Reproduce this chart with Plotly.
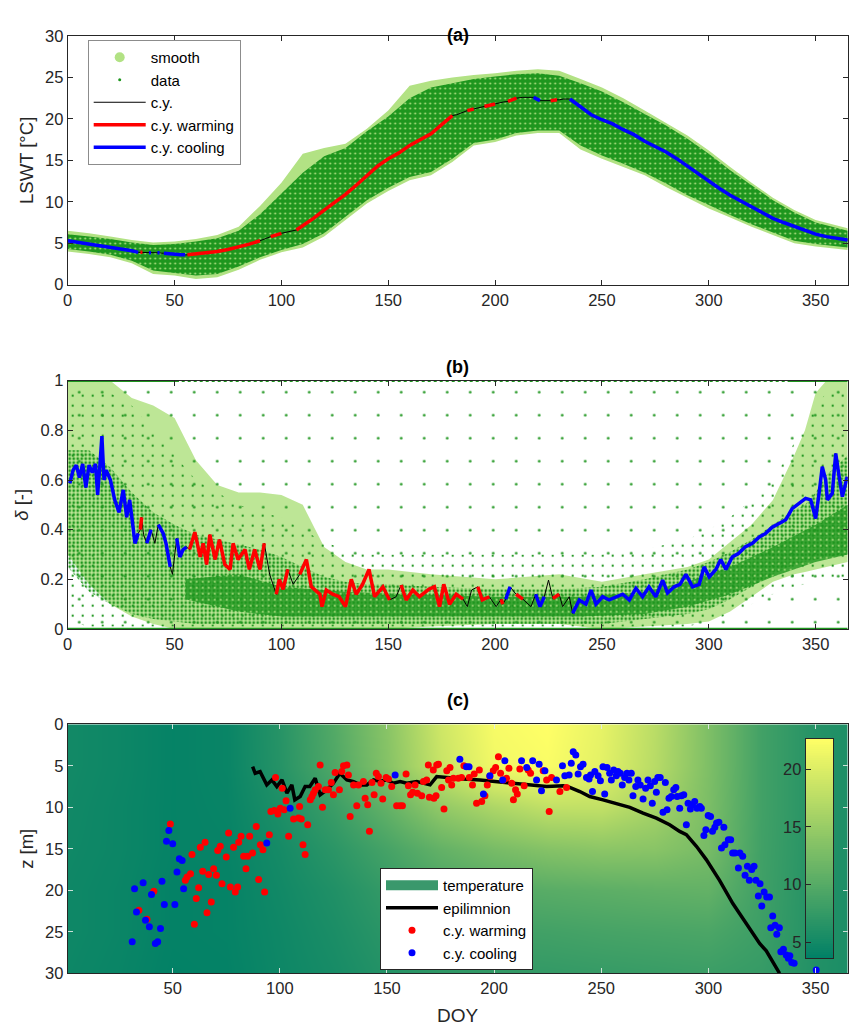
import numpy as np
import plotly.graph_objects as go

# ------------------------------------------------------------------ panel (a)
a_env_doy = [0, 10, 20, 30, 40, 50, 60, 70, 80, 90, 100, 110, 120, 130, 140, 150, 160, 170, 180,
             190, 200, 210, 220, 230, 240, 250, 260, 270, 280, 290, 300, 310, 320, 330, 340, 350, 365]
a_smooth_hi = [6.5, 6.2, 5.8, 5.4, 5.1, 5.2, 5.5, 6.0, 7.0, 9.5, 12.3, 15.8, 16.5, 17.0, 18.8, 21.0, 24.0, 24.6, 25.0,
               25.3, 25.5, 25.8, 26.0, 25.8, 24.8, 23.8, 22.5, 21.0, 19.5, 18.0, 16.2, 14.2, 12.3, 10.5, 9.0, 7.8, 6.8]
a_smooth_lo = [4.0, 3.7, 3.3, 2.6, 1.3, 1.1, 0.7, 0.9, 1.8, 3.0, 3.9, 4.5, 5.8, 7.8, 9.8, 11.3, 12.6, 13.2, 14.8,
               16.8, 17.2, 18.0, 18.3, 18.3, 16.3, 15.2, 14.2, 13.2, 11.8, 10.5, 9.2, 8.1, 7.0, 6.0, 5.0, 4.6, 4.2]
a_data_hi = [6.1, 5.8, 5.5, 5.1, 4.8, 4.9, 5.2, 5.6, 6.5, 8.5, 11.0, 13.5, 15.5, 16.5, 18.5, 20.3, 22.5, 23.8, 24.3,
             24.8, 25.1, 25.4, 25.5, 25.2, 24.3, 23.3, 22.0, 20.6, 19.2, 17.6, 15.8, 13.8, 12.0, 10.2, 8.7, 7.5, 6.5]
a_data_lo = [4.3, 4.0, 3.6, 2.9, 1.7, 1.4, 1.1, 1.3, 2.2, 3.3, 4.2, 4.9, 6.2, 8.2, 10.2, 11.7, 13.0, 13.6, 15.2,
             17.1, 17.5, 18.3, 18.6, 18.6, 16.8, 15.6, 14.6, 13.5, 12.2, 10.8, 9.6, 8.4, 7.3, 6.3, 5.3, 4.9, 4.5]

a_cy_doy = [0, 5, 10, 15, 20, 25, 30, 33, 34, 35, 36, 38, 39, 40, 42, 43, 44, 45, 48, 50, 53, 55,
            56, 60, 65, 70, 75, 80, 85, 90, 93, 95, 100, 104, 107, 110, 115, 120, 125, 130, 135, 140,
            145, 150, 155, 160, 165, 170, 175, 180, 182, 184, 185, 187, 190, 193, 195, 200, 203, 204,
            206, 210, 213, 217, 218, 221, 224, 226, 229, 230, 232, 233, 235, 240, 245, 250, 255, 260,
            265, 270, 275, 280, 285, 290, 295, 300, 305, 310, 315, 320, 325, 330, 335, 340, 345, 350,
            355, 360, 365]
a_cy_T = [5.3, 5.1, 4.9, 4.7, 4.5, 4.35, 4.1, 3.9, 3.9, 3.9, 3.85, 3.85, 3.85, 3.85, 3.85, 3.85, 3.8, 3.8, 3.7, 3.65, 3.6, 3.6,
          3.6, 3.7, 3.85, 4.0, 4.25, 4.55, 4.9, 5.3, 5.6, 5.8, 6.2, 6.4, 6.6, 7.1, 8.0, 9.0, 9.9, 10.9, 12.0, 13.2,
          14.3, 15.2, 15.9, 16.8, 17.5, 18.2, 19.3, 20.4, 20.5, 20.7, 20.8, 21.0, 21.2, 21.4, 21.5, 21.8, 22.0, 22.05,
          22.1, 22.5, 22.6, 22.6, 22.6, 22.2, 22.2, 22.2, 22.3, 22.3, 22.4, 22.4, 22.4, 21.5, 20.5, 19.9, 19.4, 18.7,
          18.1, 17.3, 16.7, 16.0, 15.2, 14.3, 13.3, 12.4, 11.6, 10.8, 10.1, 9.3, 8.6, 8.0, 7.5, 7.0, 6.5, 6.1,
          5.8, 5.6, 5.4]
a_cy_phase = ['c', 'c', 'c', 'c', 'c', 'c', 'c', 'c', 'w', 'w', 'n', 'c', 'c', 'n', 'c', 'c', 'n', 'c', 'c', 'c', 'c', 'c',
              'w', 'w', 'w', 'w', 'w', 'w', 'w', 'w', 'n', 'w', 'w', 'n', 'w', 'w', 'w', 'w', 'w', 'w', 'w', 'w',
              'w', 'w', 'w', 'w', 'w', 'w', 'w', 'w', 'n', 'c', 'n', 'w', 'w', 'n', 'w', 'w', 'c', 'n',
              'w', 'w', 'n', 'n', 'c', 'c', 'n', 'w', 'w', 'n', 'c', 'n', 'c', 'c', 'c', 'c', 'c', 'c',
              'c', 'c', 'c', 'c', 'c', 'c', 'c', 'c', 'c', 'c', 'c', 'c', 'c', 'c', 'c', 'c', 'c', 'c',
              'c', 'c', 'c']

# ------------------------------------------------------------------ panel (b)
b_env_doy = [0, 10, 20, 30, 40, 50, 60, 70, 80, 90, 100, 110, 120, 130, 140, 150, 170, 200, 230, 250,
             270, 290, 300, 310, 320, 330, 340, 345, 350, 355, 365]
b_smooth_hi = [1.0, 1.0, 1.0, 0.93, 0.9, 0.85, 0.68, 0.58, 0.55, 0.55, 0.54, 0.5, 0.33, 0.27, 0.24, 0.24, 0.22, 0.2, 0.22, 0.19,
               0.22, 0.25, 0.28, 0.35, 0.42, 0.52, 0.7, 0.8, 0.95, 1.0, 1.0]
b_smooth_lo = [0.3, 0.18, 0.1, 0.05, 0.02, 0.0, 0.0, 0.0, 0.0, 0.0, 0.0, 0.0, 0.0, 0.0, 0.0, 0.0, 0.01, 0.02, 0.02, 0.0,
               0.01, 0.02, 0.03, 0.07, 0.13, 0.19, 0.22, 0.23, 0.24, 0.25, 0.27]
b_core_hi = [0.72, 0.72, 0.65, 0.55, 0.47, 0.42, 0.38, 0.36, 0.34, 0.32, 0.29, 0.25, 0.21, 0.19, 0.18, 0.18, 0.17, 0.16, 0.16, 0.17,
             0.2, 0.24, 0.27, 0.31, 0.36, 0.42, 0.48, 0.5, 0.55, 0.62, 0.7]
b_core_lo = [0.25, 0.15, 0.1, 0.06, 0.04, 0.03, 0.02, 0.02, 0.02, 0.02, 0.02, 0.02, 0.02, 0.02, 0.02, 0.02, 0.02, 0.02, 0.02, 0.02,
             0.04, 0.06, 0.08, 0.12, 0.17, 0.22, 0.26, 0.27, 0.28, 0.29, 0.3]
b_mid_hi = [0.97, 0.97, 0.95, 0.9, 0.8, 0.7, 0.6, 0.55, 0.5, 0.47, 0.45, 0.4, 0.35, 0.32, 0.3, 0.3, 0.3, 0.3, 0.3, 0.3,
            0.32, 0.36, 0.4, 0.45, 0.52, 0.6, 0.75, 0.82, 0.9, 0.95, 0.97]
b_mid_lo = [0.03, 0.01, 0.01, 0.01, 0.01, 0.01, 0.01, 0.01, 0.01, 0.01, 0.01, 0.01, 0.01, 0.01, 0.01, 0.01, 0.01, 0.01, 0.01, 0.01,
            0.01, 0.01, 0.03, 0.06, 0.1, 0.14, 0.17, 0.18, 0.2, 0.2, 0.2]
b_dense_doy = [55, 80, 100, 130, 160, 200, 240, 270, 290, 310, 330, 350, 365]
b_dense_hi = [0.2, 0.22, 0.17, 0.15, 0.14, 0.13, 0.13, 0.15, 0.19, 0.25, 0.33, 0.42, 0.5]
b_dense_lo = [0.12, 0.07, 0.05, 0.05, 0.05, 0.05, 0.05, 0.06, 0.09, 0.14, 0.21, 0.27, 0.3]
b_sparse_doy = [0, 365]
b_sparse_lo = [0.0, 0.0]
b_sparse_hi = [1.0, 1.0]
b_row_doy = [0, 365]
b_row_low = [0.0, 0.0]
b_row_top_dense_a = [0, 52]
b_row_top_dense_b = [337, 365]
b_row_top = [1.0, 1.0]

b_cy_doy = [1, 2.5, 4, 5.5, 7, 8.5, 10, 11.5, 13, 14, 15, 16, 17, 18, 20, 22, 24, 26, 27.6, 29, 30, 31.5, 33,
            34, 34.6, 35.5, 37, 39, 40.8, 42.4, 44.7, 46, 48, 49, 51, 52.5, 54, 55.6,
            57, 59.5, 62, 63.4, 65, 66.5, 69, 71, 73.5, 76, 77.4, 79.7, 83, 85, 87.5, 90, 92, 94.5,
            97.6, 99, 100.8, 103, 105.5, 108.6, 111.7, 114, 118, 119, 121, 124, 127, 130, 132.7, 135,
            138, 141, 143.6, 147.5, 150.6, 153.7, 156, 158.4, 161.5, 164.6, 169, 171.6, 174, 176, 178.7,
            181.8, 185, 187, 189, 191.9, 194, 197.3, 200.5, 202.8, 203.6, 205, 207, 209.8, 213, 216.8,
            219, 221, 223, 225, 227, 230, 231.6, 234.7, 236.3, 239.4, 242.5, 244.9, 247.2, 250.3, 253.4,
            256.5, 259.7, 262.8, 265.9, 269, 272, 275.2, 278.4, 280.7, 283.8, 286.5, 289.3, 292.4, 295.5,
            297.8, 300.2, 303.3, 305.6, 308, 311, 314, 317, 320.4, 323.5, 326.6, 329.7, 332.9, 336, 339,
            342.5, 345.3, 347.7, 350, 351.6, 353.1, 354.7, 355.5, 357.8, 359.4, 361, 362.5, 364.8]
b_cy_delta = [0.587, 0.64, 0.66, 0.61, 0.665, 0.57, 0.66, 0.63, 0.665, 0.54, 0.65, 0.777, 0.6, 0.64, 0.6, 0.52, 0.47, 0.56, 0.45, 0.52, 0.45, 0.345, 0.385,
              0.4, 0.45, 0.38, 0.345, 0.4, 0.345, 0.42, 0.385, 0.345, 0.25, 0.22, 0.365, 0.29, 0.32, 0.33,
              0.32, 0.39, 0.29, 0.345, 0.26, 0.38, 0.28, 0.36, 0.26, 0.24, 0.345, 0.28, 0.32, 0.24, 0.32, 0.24, 0.345, 0.22,
              0.14, 0.20, 0.16, 0.24, 0.18, 0.22, 0.28, 0.17, 0.14, 0.09, 0.157, 0.14, 0.13, 0.09, 0.20, 0.14,
              0.18, 0.24, 0.13, 0.17, 0.117, 0.13, 0.177, 0.117, 0.157, 0.13, 0.16, 0.17, 0.09, 0.18, 0.10,
              0.14, 0.12, 0.09, 0.157, 0.17, 0.117, 0.13, 0.09, 0.12, 0.10, 0.12, 0.17, 0.14, 0.12, 0.09,
              0.14, 0.09, 0.13, 0.197, 0.123, 0.14, 0.09, 0.13, 0.063, 0.117, 0.10, 0.157, 0.10, 0.13, 0.117,
              0.13, 0.14, 0.117, 0.164, 0.13, 0.17, 0.13, 0.197, 0.145, 0.17, 0.18, 0.22, 0.17, 0.18,
              0.25, 0.21, 0.24, 0.28, 0.24, 0.29, 0.305, 0.33, 0.345, 0.37, 0.385, 0.41, 0.425, 0.44, 0.485,
              0.506, 0.526, 0.52, 0.445, 0.546, 0.654, 0.6, 0.52, 0.546, 0.707, 0.613, 0.533, 0.613]
b_cy_phase = ['c'] * 23 + ['w', 'w', 'n', 'c', 'c', 'n', 'c', 'c', 'c', 'c', 'n', 'c', 'c', 'c', 'c'] + \
             ['w'] * 17 + ['n'] + ['w'] * 4 + ['n'] + ['w'] * 16 + ['n'] + ['w'] * 11 + \
             ['n', 'c', 'w', 'w', 'w', 'n', 'w', 'w', 'c', 'c', 'w', 'w', 'n', 'c', 'c', 'c', 'n', 'w', 'w', 'n', 'n'] + \
             ['c'] * 52

# ------------------------------------------------------------------ panel (c)
c_hm_doy = [0, 25, 50, 75, 100, 125, 150, 175, 200, 225, 250, 275, 300, 325, 350, 375]
c_hm_depth = [0, 5, 10, 15, 20, 25, 30]
t_z0 = [5.0, 4.6, 4.0, 4.3, 6.5, 9.8, 13.8, 19.0, 22.0, 22.6, 20.8, 17.5, 13.0, 8.5, 6.3, 5.5]
t_z5 = [5.0, 4.6, 4.0, 4.3, 6.4, 9.5, 13.5, 18.5, 21.6, 22.2, 20.5, 17.3, 13.0, 8.5, 6.3, 5.5]
t_z10 = [4.9, 4.5, 4.0, 4.2, 5.8, 8.0, 11.0, 14.5, 16.5, 18.0, 18.0, 16.0, 12.8, 8.5, 6.3, 5.5]
t_z15 = [4.8, 4.5, 4.0, 4.1, 5.2, 6.8, 8.8, 11.0, 12.5, 13.5, 14.0, 13.8, 12.5, 8.4, 6.3, 5.4]
t_z20 = [4.7, 4.4, 3.9, 4.0, 4.9, 6.0, 7.5, 9.0, 9.8, 10.2, 10.5, 10.8, 11.0, 8.3, 6.2, 5.4]
t_z25 = [4.7, 4.4, 3.9, 4.0, 4.7, 5.6, 6.8, 7.8, 8.3, 8.5, 8.8, 9.0, 9.2, 8.1, 6.2, 5.3]
t_z30 = [4.6, 4.3, 3.8, 3.9, 4.6, 5.3, 6.3, 7.0, 7.3, 7.4, 7.6, 7.8, 8.0, 7.6, 6.1, 5.3]
c_tmin, c_tmax = 3.6, 22.6
cb_ticks = [5, 10, 15, 20]

c_epi_doy = [87.3, 88.5, 90.8, 93.9, 96.3, 98.6, 101, 103.3, 105.6, 107, 109.5, 111.8, 114, 116.5, 118.8,
             121.9, 125, 128, 131.3, 134.4, 137.5, 140.6, 143.7, 146.8, 149.9, 153, 156.1, 159.2, 163.9,
             170.1, 173.2, 179.4, 185.6, 193.4, 201.2, 208.9, 216.7, 224.5, 232.2, 235.3, 240, 244.6, 250.8,
             257, 263.3, 269.5, 275.7, 281.9, 286.6, 289.7, 294.4, 299, 305.2, 311.4, 317.7, 323.9, 327,
             330.1, 333.2]
c_epi_z = [5.1, 5.9, 5.7, 7.3, 6.7, 7.5, 6.7, 8.3, 7.3, 9.1, 8.7, 7.5, 7.5, 6.5, 8.5,
           7.9, 7.1, 5.9, 6.7, 6.9, 7.3, 7.3, 6.7, 6.9, 6.7, 7.1, 6.9, 7.1, 6.9,
           7.3, 6.3, 6.5, 6.6, 6.7, 6.9, 7.0, 7.2, 7.5, 7.4, 7.6, 8.1, 8.7, 9.1,
           9.6, 10.0, 10.7, 11.3, 12.1, 12.9, 13.3, 14.7, 16.3, 18.8, 21.6, 24.0, 26.4, 27.3,
           28.6, 30.0]

c_warm_doy = [48.9, 41.2, 34.2, 38.0, 59.0, 65.1, 62.9, 58.3, 56.7, 55.9, 64.0, 62.1, 61.0, 60.1, 66.0, 68.0,
              66.8, 69.1, 70.4, 71.0, 72.2, 73.0, 76.1, 75.0, 76.9, 78.4, 79.2, 80.3, 80.8, 81.9, 83.1, 84.2,
              85.0, 85.9, 87.3, 89.0, 90.1, 90.9, 92.1, 92.9, 95.1, 95.8, 97.4, 98.0, 99.1, 101.1, 100.2, 102.0,
              102.9, 104.1, 106.4, 109.2, 108.7, 110.0, 110.8, 111.8, 113.0, 114.2, 115.0, 115.7, 116.5, 118.0,
              118.8, 119.9, 121.2, 122.7, 124.0, 125.0, 125.8, 127.8, 128.9, 129.7, 131.3, 132.0, 132.8, 134.4,
              135.9, 136.7, 139.0, 139.8, 141.0, 141.8, 143.0, 144.0, 145.0, 146.0, 147.2, 148.0, 149.6, 150.7,
              152.2, 154.5, 156.1, 157.2, 158.9, 160.0, 161.0, 162.0, 163.1, 164.2, 166.2, 167.0, 168.5, 169.3,
              169.8, 171.6, 173.2, 174.0, 171.9, 172.9, 175.5, 176.6, 177.9, 178.7, 179.4, 180.2, 181.0, 183.3,
              184.8, 185.9, 188.4, 189.9, 190.7, 191.8, 193.1, 194.2, 195.7, 196.8, 198.0, 199.6, 200.7, 202.0,
              203.0, 204.3, 205.8, 206.9, 208.2, 209.0, 210.0, 210.8, 212.0, 214.0, 215.9, 217.0, 222.9, 224.5,
              225.7, 226.8, 230.7, 233.8]
c_warm_z = [12.0, 20.1, 22.4, 23.5, 15.7, 14.2, 14.8, 18.0, 18.4, 18.8, 17.7, 19.7, 21.0, 24.1, 22.7, 21.4,
            18.1, 17.4, 18.2, 15.2, 14.7, 19.2, 13.1, 16.0, 19.6, 14.8, 20.2, 19.6, 14.2, 13.5, 15.9, 17.4,
            15.9, 13.5, 15.5, 12.3, 18.7, 14.5, 15.1, 20.2, 13.3, 10.5, 10.4, 6.4, 10.8, 7.7, 10.1, 10.3,
            9.2, 13.5, 11.4, 9.9, 11.3, 11.4, 14.5, 15.7, 12.1, 9.1, 8.7, 8.3, 7.9, 7.5,
            4.9, 10.0, 7.9, 7.9, 7.0, 8.5, 5.8, 7.9, 5.7, 5.0, 4.9, 6.1, 11.1, 7.3,
            9.8, 7.3, 6.9, 8.9, 9.7, 12.9, 7.0, 8.5, 5.9, 6.3, 7.1, 9.0, 6.4, 6.6,
            7.5, 9.8, 9.8, 9.8, 6.0, 7.4, 8.5, 8.2, 7.3, 8.3, 8.6, 6.9, 6.7, 4.9,
            8.8, 5.5, 4.9, 4.8, 8.9, 8.6, 7.6, 10.2, 5.6, 6.7, 5.2, 7.3, 6.5, 6.5,
            6.4, 5.0, 6.4, 7.3, 6.0, 9.5, 5.5, 9.3, 8.6, 7.3, 6.3, 5.6, 5.2, 3.9,
            5.9, 6.7, 6.5, 5.3, 7.1, 9.1, 7.9, 8.4, 5.4, 7.4, 5.5, 5.9, 5.6, 6.7,
            10.5, 6.4, 8.1, 7.6]
c_cool_doy = [31.1, 32.2, 33.1, 36.2, 37.3, 39.1, 40.1, 41.9, 43.0, 44.3, 45.0, 46.1, 47.1, 48.2, 50.0, 51.0,
              52.0, 53.1, 54.4, 55.1, 93.9, 104.8, 153.8, 184.0, 187.1, 188.3, 195.0, 198.0, 204.0, 205.0,
              212.8, 215.2, 218.0, 219.8, 221.0, 222.1, 223.7, 229.1, 231.9, 233.0, 235.0, 236.0, 236.9, 238.1,
              239.2, 240.3, 241.5, 243.1, 244.3, 245.0, 245.9, 247.0, 248.5, 249.6, 250.8, 251.6, 252.7, 253.9,
              254.7, 255.8, 257.0, 257.8, 258.9, 259.8, 260.9, 262.0, 262.9, 264.0, 264.8, 266.1, 267.1, 268.2,
              269.5, 270.7, 271.8, 272.9, 273.8, 274.9, 275.7, 276.4, 277.5, 278.8, 279.9, 280.7, 281.6, 282.7,
              283.8, 284.8, 285.4, 286.6, 287.4, 288.5, 289.7, 290.5, 291.6, 292.5, 293.6, 294.7, 296.0, 296.7,
              297.9, 298.8, 299.9, 301.0, 301.9, 303.0, 303.8, 304.9, 306.1, 307.2, 307.7, 309.3, 310.4, 311.3,
              312.4, 314.0, 314.7, 316.0, 317.1, 318.2, 319.1, 320.2, 321.3, 322.2, 323.3, 324.1, 324.9, 326.0,
              327.2, 328.5, 329.1, 330.0, 331.1, 331.9, 333.1, 333.8, 335.0, 336.3, 337.3, 338.0, 338.9, 340.0,
              350.3]
c_cool_z = [26.2, 19.8, 22.6, 19.1, 23.6, 24.4, 20.5, 26.4, 26.2, 24.6, 18.9, 21.7, 14.1, 12.8, 14.4, 21.7,
            17.8, 16.2, 16.4, 19.8, 14.3, 10.1, 6.1, 4.2, 5.1, 5.1, 8.4, 6.2, 6.7, 4.4,
            4.4, 5.2, 4.4, 6.7, 4.8, 8.0, 5.6, 6.7, 5.0, 6.2, 6.1, 4.7, 3.3, 3.7,
            6.0, 5.1, 4.8, 6.4, 6.6, 6.1, 8.1, 5.7, 6.2, 6.8, 5.1, 8.4, 5.2, 5.9,
            6.7, 5.5, 6.2, 5.7, 5.9, 7.3, 6.4, 5.9, 6.7, 5.9, 8.6, 7.5, 6.7, 7.3,
            9.0, 7.7, 6.7, 7.4, 9.5, 6.9, 8.2, 6.4, 6.4, 10.6, 7.0, 10.3, 8.9, 8.7,
            7.9, 7.6, 8.7, 10.1, 8.6, 8.5, 12.1, 9.5, 10.2, 9.7, 9.3, 10.1, 9.9, 10.1,
            13.4, 12.7, 11.0, 11.1, 12.9, 12.4, 11.9, 11.8, 14.9, 12.4, 14.5, 13.9, 13.9, 15.5,
            15.5, 17.3, 15.5, 15.9, 18.2, 17.1, 18.8, 17.5, 17.1, 18.8, 20.7, 19.2, 21.9, 20.2,
            20.8, 20.8, 24.5, 23.1, 24.2, 25.3, 24.5, 27.4, 27.1, 27.8, 28.2, 27.9, 28.7, 28.8,
            29.6]

# ------------------------------------------------------------------ styling
FONT = "Liberation Sans, Arial, Helvetica, sans-serif"
TXT = "#262626"
LIGHT = "rgb(178,226,132)"
DARK = "rgb(30,150,30)"
W, H = 851, 1027
X0, X1 = 67.7, 847.7
PANELS = {"a": (36.0, 284.7), "b": (380.7, 629.0), "c": (724.3, 973.3)}


def xdom(a, b):
    return [a / W, b / W]


def ydom(top, bot):
    return [1 - bot / H, 1 - top / H]


def band(x, lo, hi):
    return list(x) + list(x)[::-1], list(hi) + list(lo)[::-1]


def masked(vals, phase, key):
    return [v if p == key else None for v, p in zip(vals, phase)]


def pattern(fg, bg, size, solidity):
    return dict(shape=".", fgcolor=fg, bgcolor=bg, fgopacity=1, size=size, solidity=solidity, fillmode="replace")


def add_band(x, lo, hi, ax, fillcolor, fillpattern=None):
    bx, by = band(x, lo, hi)
    kw = dict(fillpattern=fillpattern) if fillpattern else {}
    fig.add_trace(go.Scatter(x=bx, y=by, fill="toself", fillcolor=fillcolor, mode="none",
                             showlegend=False, hoverinfo="skip", xaxis="x" + ax, yaxis="y" + ax, **kw))


fig = go.Figure()

# ---------------- (a)
add_band(a_env_doy, a_smooth_lo, a_smooth_hi, "", LIGHT)
add_band(a_env_doy, a_data_lo, a_data_hi, "", DARK, pattern(LIGHT, DARK, 5, 0.12))
fig.add_trace(go.Scatter(x=[None], y=[None], mode="markers", marker=dict(size=10, color=LIGHT),
                         name="smooth", legend="legend", legendrank=1))
fig.add_trace(go.Scatter(x=[None], y=[None], mode="markers", marker=dict(size=3, color=DARK),
                         name="data", legend="legend", legendrank=2))
fig.add_trace(go.Scatter(x=a_cy_doy, y=a_cy_T, mode="lines", line=dict(color="black", width=1),
                         name="c.y.", legend="legend", legendrank=3))
fig.add_trace(go.Scatter(x=a_cy_doy, y=masked(a_cy_T, a_cy_phase, "w"), mode="lines",
                         line=dict(color="red", width=3.5), name="c.y. warming", legend="legend", legendrank=4))
fig.add_trace(go.Scatter(x=a_cy_doy, y=masked(a_cy_T, a_cy_phase, "c"), mode="lines",
                         line=dict(color="blue", width=3.5), name="c.y. cooling", legend="legend", legendrank=5))

# ---------------- (b)
add_band(b_env_doy, b_smooth_lo, b_smooth_hi, "2", "rgba(178,226,132,0.85)")
add_band(b_sparse_doy, b_sparse_lo, b_sparse_hi, "2", "rgba(0,0,0,0)", pattern(DARK, "rgba(0,0,0,0)", 23, 0.011))
add_band(b_env_doy, b_mid_lo, b_mid_hi, "2", "rgba(0,0,0,0)", pattern(DARK, "rgba(0,0,0,0)", 10, 0.04))
add_band(b_env_doy, b_core_lo, b_core_hi, "2", "rgba(0,0,0,0)", pattern(DARK, "rgba(0,0,0,0)", 4, 0.38))
add_band(b_dense_doy, b_dense_lo, b_dense_hi, "2", "rgba(30,150,30,0.8)",
         pattern(LIGHT, "rgba(30,150,30,0.8)", 6, 0.08))
fig.add_trace(go.Scatter(x=b_row_doy, y=b_row_low, mode="lines", line=dict(color=DARK, width=2.5),
                         showlegend=False, hoverinfo="skip", xaxis="x2", yaxis="y2"))
fig.add_trace(go.Scatter(x=b_row_doy, y=b_row_top, mode="lines", line=dict(color=DARK, width=2.5, dash="dot"),
                         showlegend=False, hoverinfo="skip", xaxis="x2", yaxis="y2"))
for seg in (b_row_top_dense_a, b_row_top_dense_b):
    fig.add_trace(go.Scatter(x=seg, y=b_row_top, mode="lines", line=dict(color=DARK, width=2.5),
                             showlegend=False, hoverinfo="skip", xaxis="x2", yaxis="y2"))
fig.add_trace(go.Scatter(x=b_cy_doy, y=b_cy_delta, mode="lines", line=dict(color="black", width=1),
                         showlegend=False, xaxis="x2", yaxis="y2"))
fig.add_trace(go.Scatter(x=b_cy_doy, y=masked(b_cy_delta, b_cy_phase, "w"), mode="lines",
                         line=dict(color="red", width=3.5), showlegend=False, xaxis="x2", yaxis="y2"))
fig.add_trace(go.Scatter(x=b_cy_doy, y=masked(b_cy_delta, b_cy_phase, "c"), mode="lines",
                         line=dict(color="blue", width=3.5), showlegend=False, xaxis="x2", yaxis="y2"))

# ---------------- (c)
SUMMER = [[0, "rgb(0,128,102)"], [1, "rgb(255,255,102)"]]
fig.add_trace(go.Heatmap(x=c_hm_doy, y=c_hm_depth, z=[t_z0, t_z5, t_z10, t_z15, t_z20, t_z25, t_z30],
                         colorscale=SUMMER, zmin=c_tmin, zmax=c_tmax, zsmooth="best", showscale=False,
                         hoverinfo="skip", xaxis="x3", yaxis="y3"))
fig.add_trace(go.Scatter(x=[None], y=[None], mode="lines", line=dict(color="rgb(58,152,108)", width=16),
                         name="temperature", legend="legend2", legendrank=1, xaxis="x3", yaxis="y3"))
fig.add_trace(go.Scatter(x=c_epi_doy, y=c_epi_z, mode="lines", line=dict(color="black", width=3.5),
                         name="epilimnion", legend="legend2", legendrank=2, xaxis="x3", yaxis="y3"))
fig.add_trace(go.Scatter(x=c_warm_doy, y=c_warm_z, mode="markers", marker=dict(color="red", size=7),
                         name="c.y. warming", legend="legend2", legendrank=3, xaxis="x3", yaxis="y3"))
fig.add_trace(go.Scatter(x=c_cool_doy, y=c_cool_z, mode="markers", marker=dict(color="blue", size=7),
                         name="c.y. cooling", legend="legend2", legendrank=4, xaxis="x3", yaxis="y3"))

cb_levels = list(np.linspace(c_tmin, c_tmax, 120))
fig.add_trace(go.Heatmap(x=[0, 1], y=cb_levels, z=[[v, v] for v in cb_levels], colorscale=SUMMER,
                         zmin=c_tmin, zmax=c_tmax, showscale=False, hoverinfo="skip",
                         xaxis="x4", yaxis="y4"))

# ------------------------------------------------------------------ layout
tickfont = dict(family=FONT, size=16.5, color=TXT)
titlefont = dict(family=FONT, size=18.5, color=TXT)
base = dict(showline=True, linecolor=TXT, linewidth=1, mirror="ticks", ticks="inside", ticklen=5,
            tickcolor=TXT, tickfont=tickfont, showgrid=False, zeroline=False)
lightticks = dict(base, tickcolor="rgba(225,235,230,0.9)")

xd = xdom(X0, X1)
legfont = dict(family=FONT, size=15, color="black")
layout = dict(
    width=W, height=H, margin=dict(l=0, r=0, t=0, b=0, autoexpand=False),
    paper_bgcolor="white", plot_bgcolor="white", font=dict(family=FONT, color=TXT),
    xaxis=dict(base, domain=xd, range=[0, 365], tickvals=list(range(0, 351, 50)), anchor="y"),
    yaxis=dict(base, domain=ydom(*PANELS["a"]), range=[0, 30], tickvals=list(range(0, 31, 5)), anchor="x",
               title=dict(text="LSWT [°C]", font=titlefont, standoff=6)),
    xaxis2=dict(base, domain=xd, range=[0, 365], tickvals=list(range(0, 351, 50)), anchor="y2"),
    yaxis2=dict(base, domain=ydom(*PANELS["b"]), range=[0, 1], tickvals=[0, 0.2, 0.4, 0.6, 0.8, 1],
                ticktext=["0", "0.2", "0.4", "0.6", "0.8", "1"], anchor="x2",
                title=dict(text="<i>δ</i> [-]", font=titlefont, standoff=6)),
    xaxis3=dict(lightticks, domain=xd, range=[1, 365], tickvals=list(range(50, 351, 50)), anchor="y3",
                title=dict(text="DOY", font=dict(family=FONT, size=19, color=TXT), standoff=12)),
    yaxis3=dict(lightticks, domain=ydom(*PANELS["c"]), range=[30, 0], tickvals=list(range(0, 31, 5)), anchor="x3",
                title=dict(text="z [m]", font=titlefont, standoff=6)),
    xaxis4=dict(domain=xdom(805.7, 833.3), range=[0, 1], showline=True, mirror=True, linecolor=TXT,
                linewidth=1, showticklabels=False, ticks="", showgrid=False, zeroline=False, anchor="y4"),
    yaxis4=dict(domain=ydom(739.0, 958.3), range=[c_tmin, c_tmax], tickvals=cb_ticks, side="left",
                showline=True, mirror=True, linecolor=TXT, linewidth=1, ticks="inside", ticklen=5,
                tickcolor=TXT, tickfont=tickfont, showgrid=False, zeroline=False, anchor="x4"),
    legend=dict(x=87.7 / W, y=1 - 40.0 / H, xanchor="left", yanchor="top", bgcolor="white",
                bordercolor="#8c8c8c", borderwidth=1, font=legfont, itemwidth=52, traceorder="normal"),
    legend2=dict(x=380.0 / W, y=1 - 868.0 / H, xanchor="left", yanchor="top", bgcolor="white",
                 bordercolor="#262626", borderwidth=1, font=legfont, itemwidth=52, traceorder="normal"),
    annotations=[
        dict(text="<b>(%s)</b>" % k, x=457.7 / W, y=1 - yy / H, xref="paper", yref="paper", showarrow=False,
             font=dict(family=FONT, size=18, color="black"))
        for k, yy in (("a", 23), ("b", 367), ("c", 712))
    ],
)
fig.update_layout(**layout)
fig.write_html("out.html")
